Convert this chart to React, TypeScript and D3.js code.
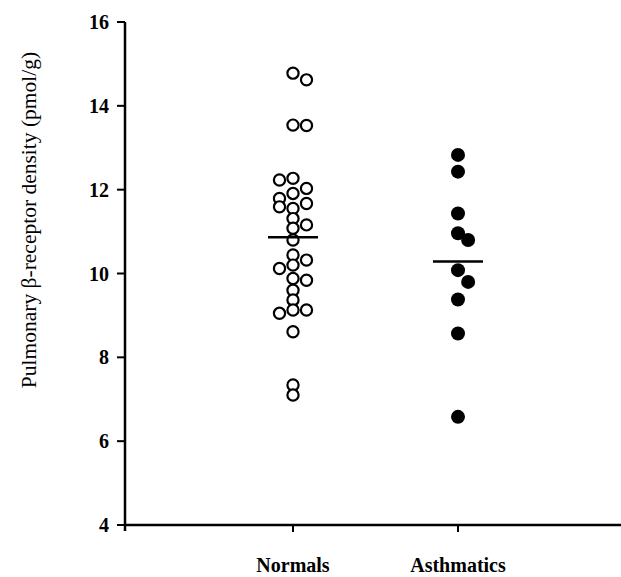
import React from "react";
import * as d3 from "d3";

const categories = ["Normals", "Asthmatics"];
const yTicks = [4, 6, 8, 10, 12, 14, 16];

const normalsValues = [14.78, 14.62, 13.54, 13.53, 12.23, 12.27, 12.03, 11.79, 11.91, 11.67, 11.59, 11.55, 11.31, 11.16, 11.08, 10.8, 10.44, 10.32, 10.12, 10.2, 9.88, 9.84, 9.6, 9.37, 9.05, 9.13, 9.13, 8.61, 7.34, 7.1];
const normalsColumn = [0, 1, 0, 1, -1, 0, 1, -1, 0, 1, -1, 0, 0, 1, 0, 0, 0, 1, -1, 0, 0, 1, 0, 0, -1, 0, 1, 0, 0, 0];

const asthmaticsValues = [12.83, 12.43, 11.43, 10.96, 10.8, 10.08, 9.8, 9.38, 8.57, 6.58];
const asthmaticsColumn = [0, 0, 0, 0, 0.75, 0, 0.75, 0, 0, 0];

const W = 621;
const H = 577;

export default function App() {
  const y = d3.scaleLinear().domain([4, 16]).range([525, 22]);
  const x = d3.scalePoint<string>().domain(categories).range([293, 458]);
  const jitter = d3.scaleLinear().domain([-1, 1]).range([-13.5, 13.5]);
  const axisX = 125;
  const serif = "'Liberation Serif', 'Times New Roman', serif";

  const groups = [
    { name: "Normals", values: normalsValues, cols: normalsColumn, filled: false },
    { name: "Asthmatics", values: asthmaticsValues, cols: asthmaticsColumn, filled: true },
  ];

  return (
    <svg width={W} height={H} style={{ position: "absolute", left: 0, top: 0, background: "#fff" }}>
      <line x1={axisX} x2={axisX} y1={y(16)} y2={y(4) + 6} stroke="#000" strokeWidth={2.5} />
      <line x1={axisX} x2={W} y1={y(4)} y2={y(4)} stroke="#000" strokeWidth={2.5} />
      {yTicks.map((t) => (
        <g key={t}>
          <line x1={axisX - 8} x2={axisX} y1={y(t)} y2={y(t)} stroke="#000" strokeWidth={2} />
          <text x={axisX - 16} y={y(t)} dy="0.35em" textAnchor="end" fontFamily={serif} fontSize={20} fontWeight="bold">
            {t}
          </text>
        </g>
      ))}
      {categories.map((c) => (
        <g key={c}>
          <line x1={x(c)!} x2={x(c)!} y1={y(4)} y2={y(4) + 7} stroke="#000" strokeWidth={2} />
          <text x={x(c)!} y={572} textAnchor="middle" fontFamily={serif} fontSize={20} fontWeight="bold">
            {c}
          </text>
        </g>
      ))}
      <text
        transform={`translate(36, 220) rotate(-90)`}
        textAnchor="middle"
        fontFamily={serif}
        fontSize={21.5}
      >
        Pulmonary β-receptor density (pmol/g)
      </text>
      {groups.map((g) => {
        const cx = x(g.name)!;
        const m = d3.mean(g.values)!;
        return (
          <g key={g.name}>
            {g.values.map((v, i) => (
              <circle
                key={i}
                cx={cx + jitter(g.cols[i])}
                cy={y(v)}
                r={g.filled ? 7 : 5.6}
                fill={g.filled ? "#000" : "#fff"}
                stroke="#000"
                strokeWidth={g.filled ? 0 : 2.2}
              />
            ))}
            <line x1={cx - 25} x2={cx + 25} y1={y(m)} y2={y(m)} stroke="#000" strokeWidth={2.5} />
          </g>
        );
      })}
    </svg>
  );
}
